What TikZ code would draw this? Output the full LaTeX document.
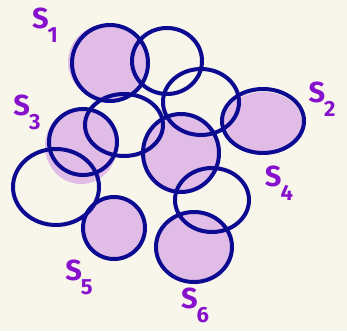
\documentclass[tikz,border=0pt]{standalone}
\usepackage{fontspec}
\setsansfont{Fira Sans}
\definecolor{paper}{RGB}{248,246,234}
\definecolor{ink}{RGB}{12,10,145}
\definecolor{lilac}{RGB}{224,188,230}
\definecolor{marker}{RGB}{135,18,205}
% label S with a low, large index
\newcommand{\setname}[1]{S\kern-1pt\raisebox{-14pt}{\fontsize{22}{22}\selectfont #1}}

\begin{document}
\begin{tikzpicture}[x=1pt, y=-1pt, line width=4pt,
    set/.style={draw=ink},
    shade/.style={fill=lilac},
    lbl/.style={text=marker, inner sep=0pt,
        font=\sffamily\bfseries\fontsize{29}{29}\selectfont}]
    % Paper and frame
    \fill [paper] (0,0) rectangle (347,331);
    \useasboundingbox (0,0) rectangle (347,331);
    % Shaded sets, under the outlines
    \fill [shade] (107,62) ellipse [x radius=39pt, y radius=38pt];
    \fill [shade] (263,122) ellipse [x radius=39pt, y radius=30pt];
    \fill [shade] (81,146) ellipse [x radius=36pt, y radius=38pt];
    \fill [shade] (182,153) ellipse [x radius=37pt, y radius=39pt];
    \fill [shade] (114,228) ellipse [x radius=31pt, y radius=31pt];
    \fill [shade] (195,246) ellipse [x radius=37pt, y radius=34pt];
    % Outlines of all the sets
    \draw [set] (110,63) ellipse [x radius=38pt, y radius=38pt];
    \draw [set] (167,61) ellipse [x radius=35pt, y radius=33pt];
    \draw [set] (124,125) ellipse [x radius=39pt, y radius=31pt];
    \draw [set] (201,102) ellipse [x radius=38pt, y radius=33pt];
    \draw [set] (263,121) ellipse [x radius=41pt, y radius=32pt];
    \draw [set] (83,142) ellipse [x radius=34pt, y radius=33pt];
    \draw [set] (56,187) ellipse [x radius=43pt, y radius=38pt];
    \draw [set] (181,153) ellipse [x radius=38pt, y radius=39pt];
    \draw [set] (114,228) ellipse [x radius=31pt, y radius=31pt];
    \draw [set] (212,200) ellipse [x radius=37pt, y radius=32pt];
    \draw [set] (194,247) ellipse [x radius=38pt, y radius=35pt];
    % Set labels
    \node [lbl] (s1) at (45,25) {\setname{1}};
    \node [lbl] (s2) at (322,99) {\setname{2}};
    \node [lbl] (s3) at (27,112) {\setname{3}};
    \node [lbl] (s4) at (279,183) {\setname{4}};
    \node [lbl] (s5) at (79,277) {\setname{5}};
    \node [lbl] (s6) at (195,305) {\setname{6}};
\end{tikzpicture}
\end{document}
